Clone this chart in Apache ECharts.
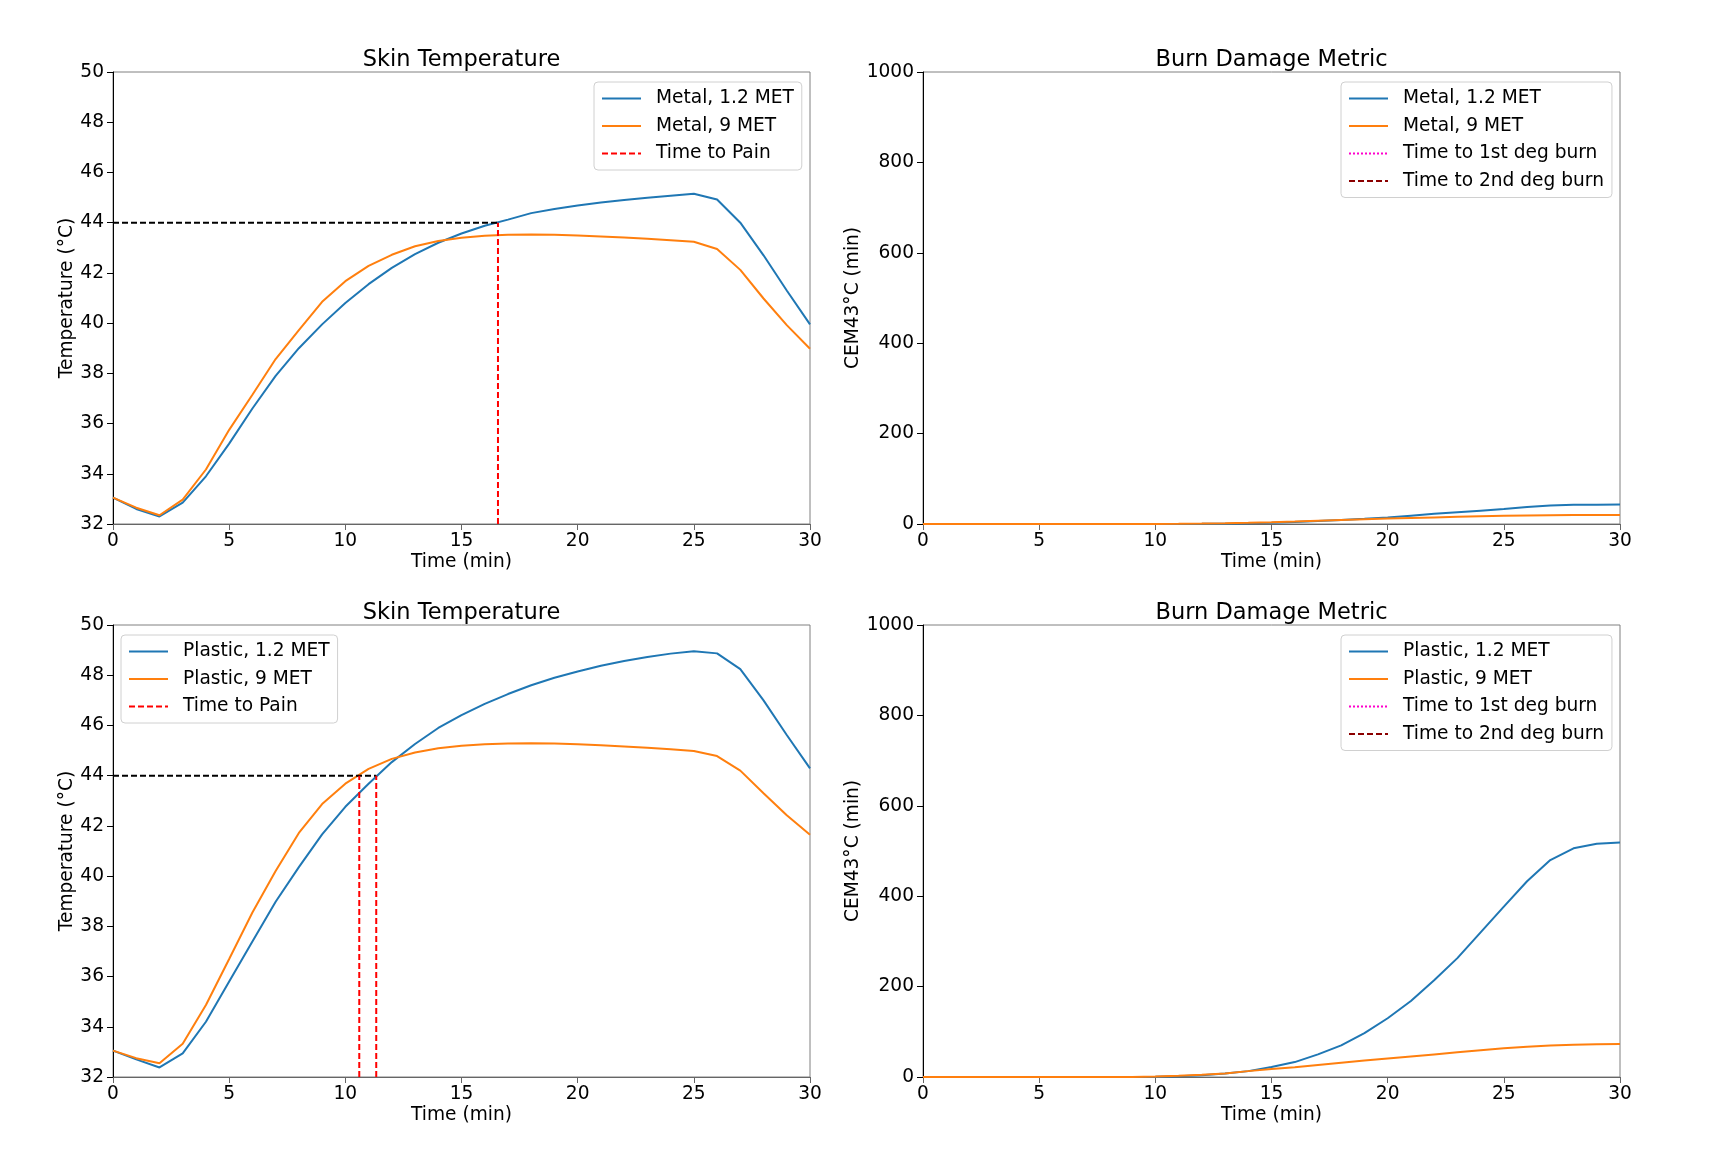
<!DOCTYPE html>
<html>
<head>
<meta charset="utf-8">
<script src="https://cdn.jsdelivr.net/npm/echarts@6/dist/echarts.min.js"></script>
<style>
html,body{margin:0;padding:0;background:#fff;}
#chart{width:1710px;height:1153px;}
</style>
</head>
<body>
<div id="chart"></div>
<script>
// ---------- data ----------
const timeMin = [0,1,2,3,4,5,6,7,8,9,10,11,12,13,14,15,16,17,18,19,20,21,22,23,24,25,26,27,28,29,30];

const metal12Temp = [33.05,32.6,32.3,32.85,33.9,35.2,36.6,37.9,39.0,39.95,40.8,41.55,42.2,42.75,43.2,43.57,43.88,44.12,44.38,44.54,44.68,44.8,44.9,44.99,45.07,45.15,44.92,44.0,42.7,41.3,39.95];
const metal9Temp  = [33.05,32.65,32.35,32.97,34.17,35.75,37.15,38.57,39.72,40.85,41.67,42.28,42.72,43.06,43.27,43.4,43.48,43.52,43.53,43.52,43.49,43.45,43.41,43.36,43.3,43.24,42.95,42.12,40.98,39.92,38.98];
const plastic12Temp = [33.05,32.7,32.38,32.94,34.2,35.8,37.4,38.98,40.36,41.66,42.76,43.68,44.54,45.26,45.9,46.41,46.86,47.25,47.6,47.9,48.15,48.38,48.57,48.73,48.86,48.95,48.87,48.24,47.0,45.62,44.29];
const plastic9Temp  = [33.05,32.75,32.55,33.32,34.87,36.7,38.55,40.2,41.72,42.87,43.68,44.27,44.67,44.92,45.09,45.19,45.25,45.28,45.29,45.28,45.25,45.21,45.16,45.11,45.05,44.98,44.78,44.2,43.3,42.42,41.65];

const metal12Burn = [0,0,0,0,0,0,0,0,0,0,0,0.1,0.3,0.8,1.6,2.8,4.5,6.5,8.8,11.5,14.5,18.5,22.5,26,29.5,33,37.5,41,42.5,42.8,42.9];
const metal9Burn  = [0,0,0,0,0,0,0,0,0,0,0.2,0.5,1.0,1.8,2.8,4.0,5.5,7.2,8.9,10.5,12,13.3,14.6,15.8,17,18,18.9,19.4,19.7,19.8,19.8];
const plastic12Burn = [0,0,0,0,0,0,0,0,0,0,0.5,1.5,4,8,13,22,33,50,70,97,130,168,214,263,320,377,433,480,506,516,519];
const plastic9Burn  = [0,0,0,0,0,0,0,0,0,0,1,2.5,5,8,13,17.5,21.5,26.5,31.5,36.5,41,45.5,50,54.5,59,63.5,67,69.5,71.5,72.5,73];

const painThreshold = 44;
const metalPainTimes = [16.57];
const plasticPainTimes = [10.6, 11.33];

const tempAxis = {min:32, max:50, interval:2};
const burnAxis = {min:0, max:1000, interval:200};
const timeAxis = {min:0, max:30, interval:5};

const titles = ['Skin Temperature','Burn Damage Metric','Skin Temperature','Burn Damage Metric'];
const tempLabel = 'Temperature (°C)';
const burnLabel = 'CEM43°C (min)';
const timeLabel = 'Time (min)';
const metalNames = ['Metal, 1.2 MET','Metal, 9 MET'];
const plasticNames = ['Plastic, 1.2 MET','Plastic, 9 MET'];
const painName = 'Time to Pain';
const burn1Name = 'Time to 1st deg burn';
const burn2Name = 'Time to 2nd deg burn';

// ---------- build ----------
const FONT = 'DejaVu Sans';
const FS = 18.6;
const BLUE = '#1f77b4', ORANGE = '#ff7f0e';
const zip = (xs, ys) => xs.map((x,i)=>[x, ys[i]]);

const gridPos = [
  {left:113, top:72, width:697, height:452},
  {left:923, top:72, width:697, height:452},
  {left:113, top:625, width:697, height:452},
  {left:923, top:625, width:697, height:452}
];

const grids = gridPos.map(g => Object.assign({show:true, borderColor:'#808080', borderWidth:1, backgroundColor:'#fff', containLabel:false}, g));

const xAxes = gridPos.map((g,i) => ({
  type:'value', gridIndex:i, min:timeAxis.min, max:timeAxis.max, interval:timeAxis.interval,
  name:timeLabel, nameLocation:'middle', nameGap:29,
  nameTextStyle:{fontFamily:FONT, fontSize:FS, color:'#000'},
  axisLine:{show:true, onZero:false, lineStyle:{color:'#666', width:1}},
  axisTick:{show:true, inside:false, length:6, lineStyle:{color:'#666'}},
  axisLabel:{fontFamily:FONT, fontSize:FS, color:'#000', margin:8, formatter:v => String(v)},
  splitLine:{show:false}
}));

const yAxes = gridPos.map((g,i) => {
  const isTemp = (i % 2 === 0);
  const ax = isTemp ? tempAxis : burnAxis;
  return {
    type:'value', gridIndex:i, min:ax.min, max:ax.max, interval:ax.interval,
    name:isTemp ? tempLabel : burnLabel, nameLocation:'middle', nameGap:isTemp ? 36 : 56,
    nameTextStyle:{fontFamily:FONT, fontSize:FS, color:'#000'},
    axisLine:{show:true, onZero:false, lineStyle:{color:'#000', width:1}},
    axisTick:{show:true, inside:false, length:6, lineStyle:{color:'#000'}},
    axisLabel:{fontFamily:FONT, fontSize:FS, color:'#000', margin:9, formatter:v => String(v)},
    splitLine:{show:false}
  };
});

const titleComps = gridPos.map((g,i) => ({
  text:titles[i], left:g.left + g.width/2, textAlign:'center', top:g.top - 23, padding:0,
  textStyle:{fontFamily:FONT, fontSize:22.5, fontWeight:'normal', color:'#000'}
}));

function lineSeries(name, color, data, idx, extra) {
  return Object.assign({
    type:'line', name:name, xAxisIndex:idx, yAxisIndex:idx, data:data,
    symbol:'none', showSymbol:false, smooth:false, animation:false,
    lineStyle:{color:color, width:2}, itemStyle:{color:color}, z:3
  }, extra || {});
}

const series = [];
// Temperature panels
[[0, metalNames, metal12Temp, metal9Temp, metalPainTimes],
 [2, plasticNames, plastic12Temp, plastic9Temp, plasticPainTimes]].forEach(([idx, names, a, b, pains]) => {
  series.push(lineSeries(names[0], BLUE, zip(timeMin, a), idx));
  series.push(lineSeries(names[1], ORANGE, zip(timeMin, b), idx));
  const maxPain = Math.max.apply(null, pains);
  series.push(lineSeries('_thresh'+idx, '#000', [[timeAxis.min, painThreshold],[maxPain, painThreshold]], idx,
    {lineStyle:{color:'#000', width:2, type:[6,3]}, z:4}));
  pains.forEach(t => {
    series.push(lineSeries(painName, '#ff0000', [[t, tempAxis.min],[t, painThreshold]], idx,
      {lineStyle:{color:'#ff0000', width:2, type:[6,3]}, itemStyle:{color:'#ff0000'}, z:5}));
  });
});
// Burn panels
[[1, metalNames, metal12Burn, metal9Burn],
 [3, plasticNames, plastic12Burn, plastic9Burn]].forEach(([idx, names, a, b]) => {
  series.push(lineSeries(names[0], BLUE, zip(timeMin, a), idx));
  series.push(lineSeries(names[1], ORANGE, zip(timeMin, b), idx));
  series.push(lineSeries(burn1Name, '#ff00cc', [], idx, {lineStyle:{color:'#ff00cc', width:2, type:[2,2]}, itemStyle:{color:'#ff00cc'}}));
  series.push(lineSeries(burn2Name, '#8b0000', [], idx, {lineStyle:{color:'#8b0000', width:2, type:[6,3]}, itemStyle:{color:'#8b0000'}}));
});

function legend(left, top, names) {
  return {
    left:left, top:top, orient:'vertical', data:names, selectedMode:false,
    itemWidth:39, itemHeight:14, itemGap:8.5,
    itemStyle:{opacity:0, borderWidth:0},
    padding:[7,8,7,7], borderColor:'#d0d0d0', borderWidth:1, borderRadius:4, backgroundColor:'rgba(255,255,255,0.8)',
    textStyle:{fontFamily:FONT, fontSize:FS, color:'#000', padding:[0,0,0,10]}
  };
}

const option = {
  backgroundColor:'#fff',
  animation:false,
  title:titleComps,
  grid:grids,
  xAxis:xAxes,
  yAxis:yAxes,
  legend:[
    legend(594, 82, [metalNames[0], metalNames[1], painName]),
    legend(1341, 82, [metalNames[0], metalNames[1], burn1Name, burn2Name]),
    legend(121, 635, [plasticNames[0], plasticNames[1], painName]),
    legend(1341, 635, [plasticNames[0], plasticNames[1], burn1Name, burn2Name])
  ],
  series:series
};

const chart = echarts.init(document.getElementById('chart'), null, {renderer:'canvas'});
chart.setOption(option);
</script>
</body>
</html>
